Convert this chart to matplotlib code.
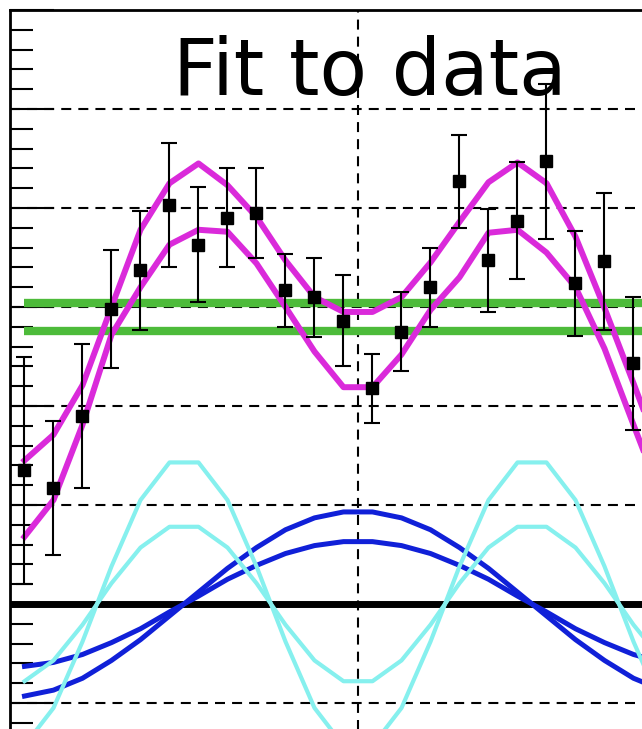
import matplotlib
matplotlib.use("Agg")
import matplotlib.pyplot as plt
from matplotlib.ticker import MultipleLocator

# ---- data ----
hours = [0.5, 1.5, 2.5, 3.5, 4.5, 5.5, 6.5, 7.5, 8.5, 9.5, 10.5, 11.5,
         12.5, 13.5, 14.5, 15.5, 16.5, 17.5, 18.5, 19.5, 20.5, 21.5, 22.5, 23.5]

obs_values = [1.35, 1.17, 1.90, 2.98, 3.37, 4.03, 3.63, 3.90, 3.95, 3.17, 3.10,
              2.86, 2.18, 2.75, 3.20, 4.27, 3.47, 3.87, 4.47, 3.24, 3.46, 2.43]
obs_errors = [1.15, 0.68, 0.73, 0.60, 0.60, 0.63, 0.58, 0.50, 0.45, 0.37, 0.40,
              0.46, 0.35, 0.40, 0.40, 0.47, 0.52, 0.59, 0.78, 0.53, 0.69, 0.67]

fit_upper = [1.45, 1.71, 2.21, 3.00, 3.78, 4.25, 4.45, 4.23, 3.91, 3.47, 3.10, 2.95,
             2.95, 3.10, 3.45, 3.86, 4.26, 4.46, 4.25, 3.71, 2.99, 2.23, 1.45]
fit_lower = [0.68, 1.05, 1.81, 2.72, 3.20, 3.63, 3.78, 3.76, 3.44, 3.00, 2.55, 2.19,
             2.19, 2.52, 2.97, 3.30, 3.75, 3.78, 3.55, 3.20, 2.58, 1.81, 1.05]

const_levels = [3.04, 2.76]

slow_big = [-0.93, -0.87, -0.75, -0.57, -0.36, -0.12, 0.12, 0.36, 0.57, 0.75, 0.87, 0.93,
            0.93, 0.87, 0.75, 0.57, 0.36, 0.12, -0.12, -0.36, -0.57, -0.75, -0.87, -0.93]
slow_small = [-0.63, -0.59, -0.51, -0.39, -0.25, -0.08, 0.08, 0.25, 0.39, 0.51, 0.59, 0.63,
              0.63, 0.59, 0.51, 0.39, 0.25, 0.08, -0.08, -0.25, -0.39, -0.51, -0.59, -0.63]

fast_big = [-1.43, -1.05, -0.38, 0.38, 1.05, 1.43, 1.43, 1.05, 0.38, -0.38, -1.05, -1.43,
            -1.43, -1.05, -0.38, 0.38, 1.05, 1.43, 1.43, 1.05, 0.38, -0.38, -1.05, -1.43]
fast_small = [-0.78, -0.57, -0.21, 0.21, 0.57, 0.78, 0.78, 0.57, 0.21, -0.21, -0.57, -0.78,
              -0.78, -0.57, -0.21, 0.21, 0.57, 0.78, 0.78, 0.57, 0.21, -0.21, -0.57, -0.78]

title_text = "Fit to data"

# ---- figure ----
W, H = 642, 729
fig = plt.figure(figsize=(W / 100, H / 100), dpi=100)
fig.patch.set_facecolor("white")

# axes: x=0 at px 10, 29 px per hour; y=0 at px 604, 99 px per unit, top at px 10
left_px, top_px = 10, 10
ax_w_px = 29 * 24
ax_bottom_px = 604 + 99 * 2
ax = fig.add_axes([left_px / W, 1 - ax_bottom_px / H, ax_w_px / W, (ax_bottom_px - top_px) / H])
ax.set_xlim(0, 24)
ax.set_ylim(-2, 6)
ax.set_facecolor("white")

# grid
ax.xaxis.set_major_locator(MultipleLocator(12))
ax.yaxis.set_major_locator(MultipleLocator(1))
ax.yaxis.set_minor_locator(MultipleLocator(0.2))
ax.grid(True, which="major", color="black", linewidth=1.5, dashes=(4.8, 3.4), zorder=0)
ax.set_axisbelow(True)

for s in ["left", "top"]:
    ax.spines[s].set_linewidth(2)
    ax.spines[s].set_color("black")
ax.spines["right"].set_visible(False)
ax.spines["bottom"].set_visible(False)

ax.tick_params(axis="y", which="major", direction="in", length=32, width=1.5,
               left=True, right=False, labelleft=False)
ax.tick_params(axis="y", which="minor", direction="in", length=16.5, width=1.5,
               left=True, right=False)
ax.tick_params(axis="x", which="both", bottom=False, top=False, labelbottom=False)

# zero line
ax.axhline(0, color="black", linewidth=5, zorder=1)

n = len(hours)
# slow components (blue)
ax.plot(hours, slow_big, color="#1020D8", linewidth=3.6, zorder=2, solid_joinstyle="round")
ax.plot(hours, slow_small, color="#1020D8", linewidth=3.6, zorder=2, solid_joinstyle="round")
# fast components (cyan)
ax.plot(hours, fast_big, color="#86F0EE", linewidth=3.0, zorder=3)
ax.plot(hours, fast_small, color="#86F0EE", linewidth=3.0, zorder=3)
# constant components (green)
for lvl in const_levels:
    ax.hlines(lvl, hours[0], hours[-1], color="#4DBB3A", linewidth=6, zorder=4)
# fits (magenta)
ax.plot(hours[:len(fit_upper)], fit_upper, color="#DA2ADA", linewidth=4.3, zorder=5)
ax.plot(hours[:len(fit_lower)], fit_lower, color="#DA2ADA", linewidth=4.3, zorder=5)
# data with error bars
ax.errorbar(hours[:len(obs_values)], obs_values, yerr=obs_errors, fmt="s", color="black",
            ecolor="black", elinewidth=1.5, capsize=5.8, capthick=1.5, markersize=9,
            zorder=6)

# title
fig.text(370 / W, 1 - 95 / H, title_text, ha="center", va="baseline",
         fontsize=56, color="black", family="DejaVu Sans")

fig.savefig("out.png", dpi=100, facecolor="white")
